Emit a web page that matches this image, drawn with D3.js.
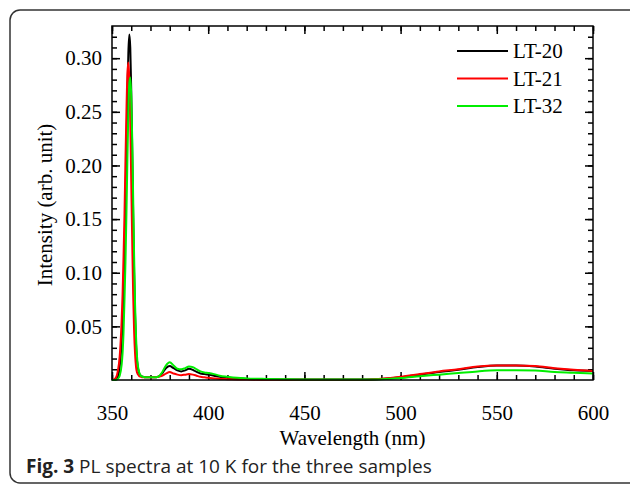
<!DOCTYPE html>
<html lang="en">
<head>
    <meta charset="UTF-8">
    <title>PL spectra</title>
    <script src="https://d3js.org/d3.v7.min.js"></script>
    <style>
        body { margin: 0; background: #fff; }
        svg { display: block; }
    </style>
</head>
<body>
    <svg id="chart" width="630" height="486"></svg>
    <script>
    // wavelength grid (nm) shared by the three spectra
    const wavelength = [350, 351, 352, 353, 354, 355, 355.5, 356, 356.5, 357, 357.5, 358, 358.5, 359, 359.5,
        360, 360.5, 361, 361.5, 362, 362.5, 363, 364, 365, 366, 368, 370, 372, 374, 376, 378, 380, 382,
        384, 386, 388, 390, 392, 394, 396, 398, 400, 403, 406, 410, 415, 420, 430, 440, 450, 460, 470,
        480, 490, 500, 510, 520, 530, 540, 550, 560, 570, 580, 590, 600];

    const lt20 = [0, 0, 0.001, 0.003, 0.012, 0.035, 0.055, 0.085, 0.12, 0.165, 0.215, 0.265, 0.305, 0.322, 0.31,
        0.27, 0.215, 0.155, 0.1, 0.06, 0.033, 0.018, 0.007, 0.004, 0.003, 0.0025, 0.0025, 0.0025, 0.003, 0.006, 0.011, 0.013, 0.011,
        0.009, 0.008, 0.009, 0.0105, 0.0095, 0.0075, 0.006, 0.0055, 0.005, 0.004, 0.003, 0.002, 0.0015, 0.001, 0.0007, 0.0005, 0.0004, 0.0004, 0.0004,
        0.0005, 0.001, 0.0025, 0.005, 0.0075, 0.0095, 0.012, 0.0135, 0.0135, 0.0125, 0.0105, 0.009, 0.0085];

    const lt21 = [0, 0.0005, 0.002, 0.008, 0.022, 0.055, 0.08, 0.115, 0.155, 0.205, 0.25, 0.285, 0.296, 0.28, 0.24,
        0.185, 0.13, 0.08, 0.045, 0.024, 0.012, 0.007, 0.004, 0.003, 0.0025, 0.0025, 0.0025, 0.0025, 0.003, 0.004, 0.006, 0.0075, 0.006,
        0.005, 0.0045, 0.005, 0.0055, 0.005, 0.004, 0.003, 0.0025, 0.002, 0.0015, 0.001, 0.0008, 0.0005, 0.0004, 0.0003, 0.0003, 0.0003, 0.0003, 0.0003,
        0.0003, 0.0012, 0.003, 0.0055, 0.008, 0.01, 0.0125, 0.0135, 0.0135, 0.013, 0.011, 0.0095, 0.0085];

    const lt32 = [0, 0, 0, 0.001, 0.004, 0.014, 0.025, 0.045, 0.075, 0.11, 0.155, 0.205, 0.25, 0.276, 0.282,
        0.265, 0.225, 0.17, 0.115, 0.07, 0.04, 0.022, 0.008, 0.004, 0.003, 0.0025, 0.0025, 0.0025, 0.003, 0.007, 0.0135, 0.0165, 0.0135,
        0.0105, 0.01, 0.011, 0.0125, 0.012, 0.01, 0.008, 0.007, 0.0065, 0.0055, 0.004, 0.003, 0.002, 0.0015, 0.001, 0.0007, 0.0005, 0.0005, 0.0005,
        0.0005, 0.0008, 0.0018, 0.0035, 0.005, 0.0065, 0.008, 0.009, 0.0092, 0.0088, 0.0075, 0.0068, 0.006];

    const seriesNames = ["LT-20", "LT-21", "LT-32"];
    const seriesValues = [lt20, lt21, lt32];
    const seriesColors = ["#000000", "#ff0000", "#00ee00"];

    const xTicks = [350, 400, 450, 500, 550, 600];
    const yTicks = [0.05, 0.10, 0.15, 0.20, 0.25, 0.30];

    const svg = d3.select("#chart");
    const serif = "'Liberation Serif', 'Times New Roman', serif";
    const fontSize = 21;
    const plot = { left: 112, right: 593, top: 26, bottom: 380 };

    // outer figure frame (runs off the right edge like the reference)
    svg.append("rect")
        .attr("x", 10).attr("y", 10)
        .attr("width", 650).attr("height", 473)
        .attr("rx", 10)
        .attr("fill", "none")
        .attr("stroke", "#333")
        .attr("stroke-width", 1.5);

    const x = d3.scaleLinear().domain([350, 600]).range([plot.left, plot.right]);
    const y = d3.scaleLinear().domain([0, 0.33]).range([plot.bottom, plot.top]);

    const xMinor = d3.range(350, 601, 10);
    const yMinor = d3.range(1, 33).map(i => i / 100);

    function styleAxis(g) {
        g.select(".domain").remove();
        g.selectAll(".tick line").attr("stroke", "#000").attr("stroke-width", 1.5);
        g.selectAll("text").attr("font-family", serif).attr("font-size", fontSize).attr("fill", "#000");
    }

    // minor ticks
    svg.append("g").attr("transform", `translate(0,${plot.bottom})`)
        .call(d3.axisBottom(x).tickValues(xMinor).tickSize(-5).tickFormat("")).call(styleAxis);
    svg.append("g").attr("transform", `translate(0,${plot.top})`)
        .call(d3.axisTop(x).tickValues(xMinor).tickSize(-5).tickFormat("")).call(styleAxis);
    svg.append("g").attr("transform", `translate(${plot.left},0)`)
        .call(d3.axisLeft(y).tickValues(yMinor).tickSize(-5).tickFormat("")).call(styleAxis);
    svg.append("g").attr("transform", `translate(${plot.right},0)`)
        .call(d3.axisRight(y).tickValues(yMinor).tickSize(-5).tickFormat("")).call(styleAxis);

    // major ticks
    svg.append("g").attr("transform", `translate(0,${plot.bottom})`)
        .call(d3.axisBottom(x).tickValues(xTicks).tickSize(-8).tickPadding(25).tickFormat(d3.format("d"))).call(styleAxis);
    svg.append("g").attr("transform", `translate(0,${plot.top})`)
        .call(d3.axisTop(x).tickValues(xTicks).tickSize(-8).tickFormat("")).call(styleAxis);
    svg.append("g").attr("transform", `translate(${plot.left},0)`)
        .call(d3.axisLeft(y).tickValues(yTicks).tickSize(-8).tickPadding(10).tickFormat(d3.format(".2f"))).call(styleAxis);
    svg.append("g").attr("transform", `translate(${plot.right},0)`)
        .call(d3.axisRight(y).tickValues(yTicks).tickSize(-8).tickFormat("")).call(styleAxis);

    // spectra
    const line = d3.line()
        .x((d, i) => x(wavelength[i]))
        .y(d => y(d))
        .curve(d3.curveMonotoneX);

    svg.append("g").selectAll("path")
        .data(seriesValues)
        .enter().append("path")
        .attr("d", line)
        .attr("fill", "none")
        .attr("stroke", (d, i) => seriesColors[i])
        .attr("stroke-width", 2);

    // plot frame
    svg.append("rect")
        .attr("x", plot.left).attr("y", plot.top)
        .attr("width", plot.right - plot.left).attr("height", plot.bottom - plot.top)
        .attr("fill", "none")
        .attr("stroke", "#000")
        .attr("stroke-width", 1.5);

    // legend
    const legend = svg.append("g").selectAll("g")
        .data(seriesNames)
        .enter().append("g")
        .attr("transform", (d, i) => `translate(457,${51 + i * 27.5})`);
    legend.append("line")
        .attr("x1", 0).attr("x2", 51)
        .attr("stroke", (d, i) => seriesColors[i])
        .attr("stroke-width", 2);
    legend.append("text")
        .attr("x", 56).attr("dy", "0.35em")
        .attr("font-family", serif).attr("font-size", fontSize)
        .text(d => d);

    // axis titles
    svg.append("text")
        .attr("x", (plot.left + plot.right) / 2).attr("y", 445)
        .attr("text-anchor", "middle")
        .attr("font-family", serif).attr("font-size", fontSize)
        .text("Wavelength (nm)");

    svg.append("text")
        .attr("transform", `translate(52,205) rotate(-90)`)
        .attr("text-anchor", "middle")
        .attr("font-family", serif).attr("font-size", fontSize)
        .text("Intensity (arb. unit)");

    // caption
    const caption = svg.append("text")
        .attr("x", 26).attr("y", 473)
        .attr("font-family", "'Open Sans', 'Noto Sans', sans-serif")
        .attr("font-size", 19)
        .attr("fill", "#222");
    caption.append("tspan").attr("font-weight", "bold").text("Fig. 3");
    caption.append("tspan").text(" PL spectra at 10 K for the three samples");
    </script>
</body>
</html>
